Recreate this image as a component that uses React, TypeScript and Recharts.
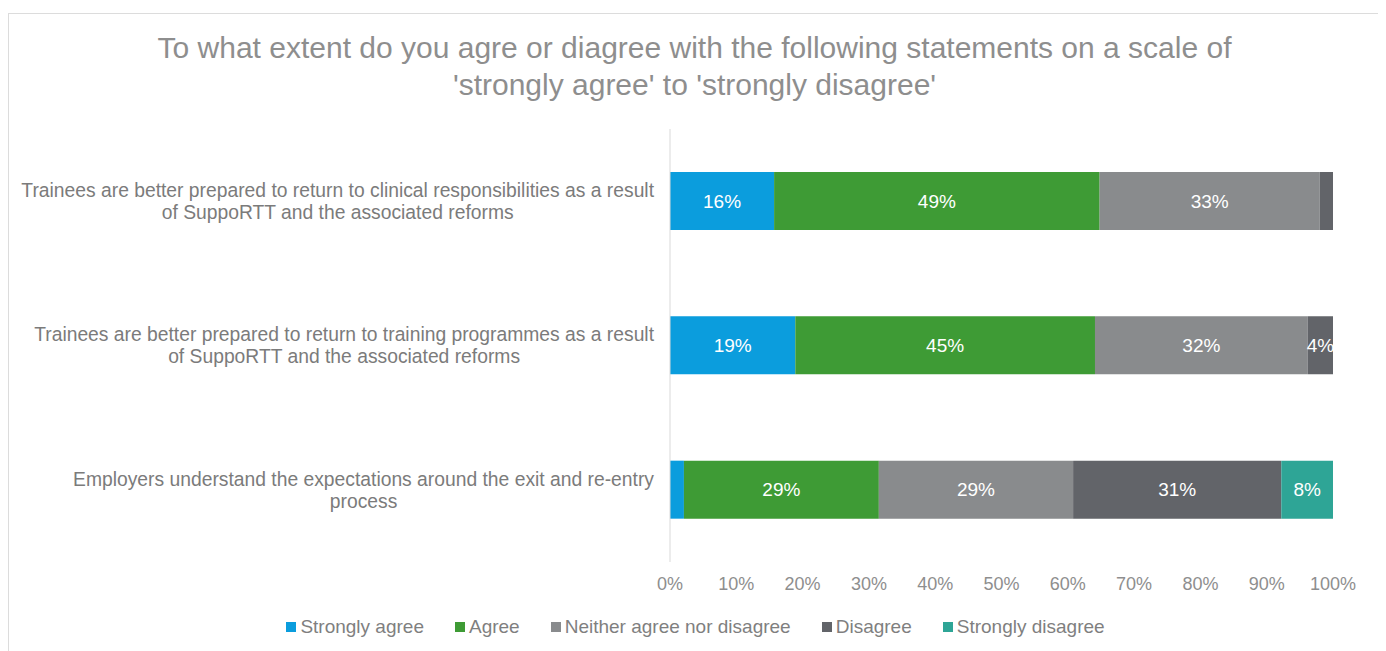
import React from 'react';
import { BarChart, Bar, XAxis, YAxis, Legend, LabelList } from 'recharts';

const FONT = '"Liberation Sans", Arial, sans-serif';

const categoryLines = [
  ['Trainees are better prepared to return to clinical responsibilities as a result', 'of SuppoRTT and the associated reforms'],
  ['Trainees are better prepared to return to training programmes as a result', 'of SuppoRTT and the associated reforms'],
  ['Employers understand the expectations around the exit and re-entry', 'process'],
];
const categories = ['clinical', 'training', 'employers'];

const stronglyAgree = [15.7, 18.9, 2.1];
const agree = [49.1, 45.2, 29.4];
const neither = [33.2, 32.1, 29.3];
const disagree = [2.0, 3.8, 31.4];
const stronglyDisagree = [0, 0, 7.8];

const xTicks = [0, 10, 20, 30, 40, 50, 60, 70, 80, 90, 100];

const series = [
  { key: 'sa', name: 'Strongly agree', color: '#0b9ddd' },
  { key: 'a', name: 'Agree', color: '#3e9b35' },
  { key: 'n', name: 'Neither agree nor disagree', color: '#898b8d' },
  { key: 'd', name: 'Disagree', color: '#626469' },
  { key: 'sd', name: 'Strongly disagree', color: '#2ea596' },
];

const data = categories.map((c, i) => ({
  cat: c,
  sa: stronglyAgree[i],
  a: agree[i],
  n: neither[i],
  d: disagree[i],
  sd: stronglyDisagree[i],
}));

let ctx: CanvasRenderingContext2D | null = null;
const measure = (s: string, size: number) => {
  if (!ctx) ctx = document.createElement('canvas').getContext('2d');
  if (!ctx) return s.length * size * 0.48;
  ctx.font = `${size}px ${FONT}`;
  return ctx.measureText(s).width;
};

// y-axis labels: lines centred on each other, block right-aligned to the axis
const CategoryTick = (props: any) => {
  const { x, y, payload } = props;
  const idx = categories.indexOf(payload.value);
  const lines = categoryLines[idx] || [];
  const w = Math.max(...lines.map(l => measure(l, 19.3)));
  const cx = x - 8 - w / 2;
  const lh = 22;
  const top = y - ((lines.length - 1) * lh) / 2;
  return (
    <text textAnchor="middle" fill="#7b7b7b" fontSize={19.3} fontFamily={FONT}>
      {lines.map((l, i) => (
        <tspan key={i} x={cx} y={top + i * lh} dy="0.35em">{l}</tspan>
      ))}
    </text>
  );
};

const SegmentLabel = (props: any) => {
  const { x, y, width, height, value } = props;
  if (value == null || value < 3) return null;
  return (
    <text x={x + width / 2} y={y + height / 2} dy="0.35em" textAnchor="middle" fill="#ffffff" fontSize={19} fontFamily={FONT}>
      {Math.round(value)}%
    </text>
  );
};

const LegendContent = () => (
  <div style={{ display: 'flex', justifyContent: 'center', fontFamily: FONT, fontSize: 19, color: '#7f7f7f' }}>
    {series.map((s, i) => (
      <div key={s.key} style={{ display: 'flex', alignItems: 'center', marginRight: i < series.length - 1 ? 31 : 0 }}>
        <span style={{ width: 10, height: 10, background: s.color, marginRight: 4, display: 'inline-block' }} />
        <span>{s.name}</span>
      </div>
    ))}
  </div>
);

export default function App() {
  return (
    <div style={{ position: 'relative', width: 1373, height: 650, marginTop: 5, border: '1px solid #dcdcdc', boxSizing: 'border-box', background: '#fff' }}>
      <div style={{ position: 'absolute', top: 15, left: 0, width: '100%', textAlign: 'center', fontFamily: FONT, fontSize: 30, lineHeight: '37px', color: '#8e8e8e' }}>
        To what extent do you agre or diagree with the following statements on a scale of
        <br />
        'strongly agree' to 'strongly disagree'
      </div>
      <div style={{ position: 'absolute', left: 0, top: 0 }}>
        <BarChart
          width={1373}
          height={610}
          data={data}
          layout="vertical"
          margin={{ top: 115, right: 49, left: 0, bottom: 0 }}
          barSize={58}
        >
          <XAxis
            type="number"
            domain={[0, 100]}
            ticks={xTicks}
            tickFormatter={(v: number) => `${v}%`}
            axisLine={false}
            tickLine={false}
            tick={{ fill: '#8e8e8e', fontSize: 18, fontFamily: FONT }}
            tickMargin={9}
            height={40}
            interval={0}
          />
          <YAxis
            type="category"
            dataKey="cat"
            width={661}
            axisLine={{ stroke: '#d9d9d9' }}
            tickLine={false}
            tick={<CategoryTick />}
          />
          <Legend verticalAlign="bottom" content={<LegendContent />} wrapperStyle={{ top: 602, left: 0, width: 1373 }} />
          {series.map(s => (
            <Bar key={s.key} dataKey={s.key} name={s.name} stackId="s" fill={s.color} isAnimationActive={false}>
              <LabelList dataKey={s.key} content={<SegmentLabel />} />
            </Bar>
          ))}
        </BarChart>
      </div>
    </div>
  );
}
